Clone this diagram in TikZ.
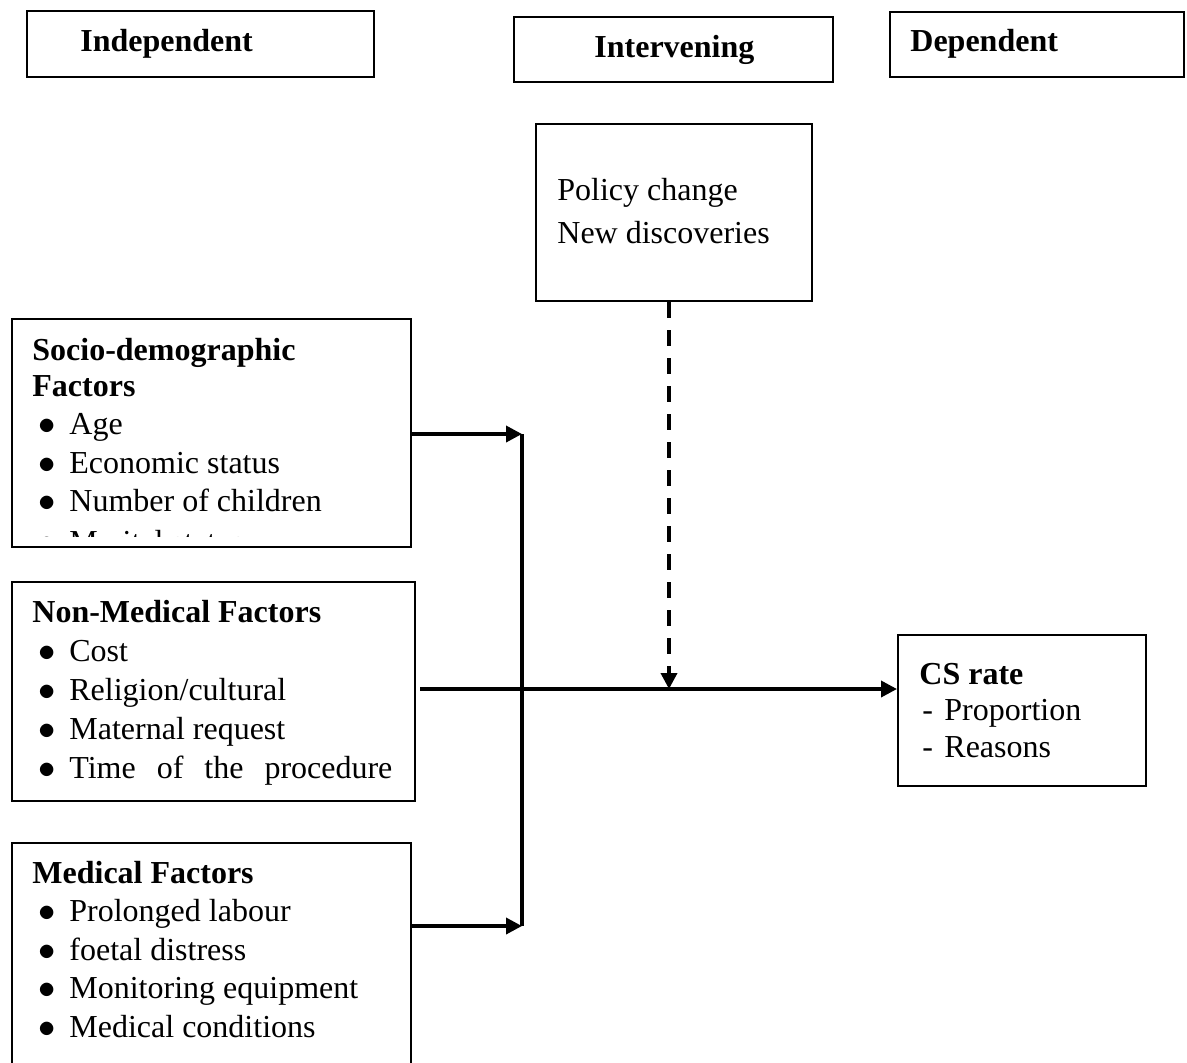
\documentclass[tikz,border=0pt]{standalone}
\usepackage{fontspec}
\setmainfont{Liberation Serif}
\usetikzlibrary{arrows.meta}

\begin{document}
\begin{tikzpicture}[x=0.5pt,y=0.5pt,yscale=-1,xscale=1,
  box/.style={draw,line width=1pt,inner sep=0pt,anchor=north west},
  txt/.style={anchor=base west,inner sep=0pt,font=\fontsize{16}{20}\selectfont},
  btxt/.style={anchor=base west,inner sep=0pt,font=\fontsize{16}{20}\selectfont\bfseries},
  link/.style={line width=1.8pt,-{Triangle[length=8pt,width=8pt]}},
  trunk/.style={line width=1.8pt}]
\useasboundingbox (0,0) rectangle (1187,1062);

%Header boxes
\node[box,minimum width=173.5pt,minimum height=33pt] (indep) at (26,10) {};
\node[box,minimum width=159.5pt,minimum height=32.5pt] (interv) at (513,16) {};
\node[box,minimum width=147pt,minimum height=32.5pt] (dep) at (889,11) {};
% Text Node
\node[btxt] (indeplbl) at (80,51) {Independent};
% Text Node
\node[btxt] (intervlbl) at (594,57) {Intervening};
% Text Node
\node[btxt] (deplbl) at (910,51) {Dependent};

%Intervening box
\node[box,minimum width=138pt,minimum height=88.5pt] (policy) at (535,123) {};
% Text Node
\node[txt] (policy1) at (557,200) {Policy change};
% Text Node
\node[txt] (policy2) at (557,243) {New discoveries};

%Socio-demographic box (last line cut off by the frame)
\node[box,minimum width=199.5pt,minimum height=114pt] (socio) at (11,318) {};
\begin{scope}
\clip (11,318) rectangle (410,536);
\node[btxt] (socio1) at (32,360) {Socio-demographic};
\node[btxt] (socio2) at (32,396) {Factors};
\foreach \y/\t in {434/Age,473/Economic status,511/Number of children,552/Marital status}
{
  \node[txt] (socb\y) at (38,\y) {$\bullet$};
  \node[txt] (soci\y) at (69,\y) {\t};
}
\end{scope}

%Non-medical box
\node[box,minimum width=201.5pt,minimum height=109.5pt] (nonmed) at (11,581) {};
% Text Node
\node[btxt] (nonmed1) at (32,622) {Non-Medical Factors};
\foreach \y/\t in {661/Cost,700/{Religion/cultural},739/Maternal request}
{
  \node[txt] (nmb\y) at (38,\y) {$\bullet$};
  \node[txt] (nmi\y) at (69,\y) {\t};
}
\node[txt] (nmb778) at (38,778) {$\bullet$};
\node[txt] (nmi778) at (69,778) {\makebox[161.5pt][s]{Time of the procedure}};

%Medical box
\node[box,minimum width=199.5pt,minimum height=115pt] (med) at (11,842) {};
% Text Node
\node[btxt] (med1) at (32,883) {Medical Factors};
\foreach \y/\t in {921/Prolonged labour,960/foetal distress,998/Monitoring equipment,1037/Medical conditions}
{
  \node[txt] (mdb\y) at (38,\y) {$\bullet$};
  \node[txt] (mdi\y) at (69,\y) {\t};
}

%Dependent box
\node[box,minimum width=124pt,minimum height=75.5pt] (cs) at (897,634) {};
% Text Node
\node[btxt] (cs1) at (919,684) {CS rate};
\node[txt] (csd1) at (922,720) {-};
\node[txt] (csi1) at (944,720) {Proportion};
\node[txt] (csd2) at (922,757) {-};
\node[txt] (csi2) at (944,757) {Reasons};

%Connectors
\coordinate (jtop) at (522,434);
\coordinate (jbot) at (522,926);
\coordinate (mainstart) at (420,689);
\draw[link] (socio.east |- jtop) -- (jtop);
\draw[link] (med.east |- jbot) -- (jbot);
\draw[trunk] (jtop) -- (jbot);
\draw[link] (mainstart) -- (cs.west |- mainstart);
\draw[link,dash pattern=on 8pt off 6pt] ([xshift=-2.5pt]policy.south) -- ([xshift=-2.5pt]policy.south |- mainstart);

\end{tikzpicture}
\end{document}
